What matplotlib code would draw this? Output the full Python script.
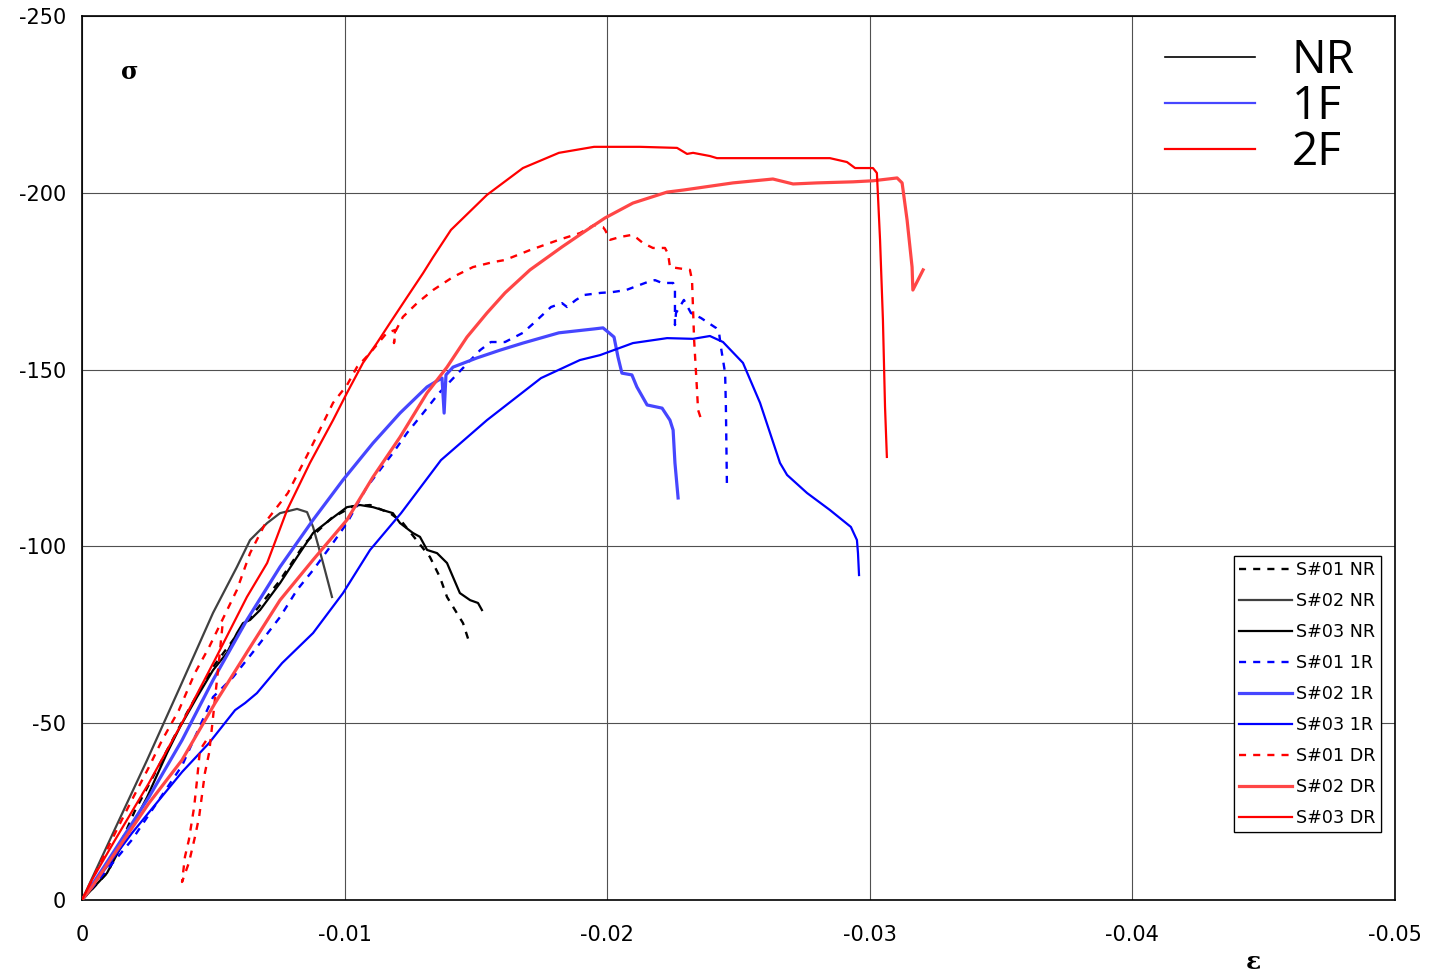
import numpy as np
import matplotlib
matplotlib.use("Agg")
import matplotlib.pyplot as plt
from matplotlib.lines import Line2D

# ---------------- data (strain in 1e-3 units, stress) ----------------
# S#01 NR
eps_s01_nr = [0, -1.0, -2.0, -3.0, -4.0, -5.0, -5.7, -6.2, -7.5, -8.5, -9.5, -10.3, -10.97,
              -11.73, -12.19, -13.25, -13.63, -13.90, -14.51, -14.78]
sig_s01_nr = [0, -8, -25, -39, -53, -66, -73, -78, -90, -101, -108, -111.3, -111.7,
              -109.4, -106.9, -97.0, -91.3, -85.7, -78.3, -72.1]
# S#02 NR
eps_s02_nr = [0, -1.18, -2.48, -3.73, -4.99, -5.90, -6.40, -7.05, -7.54, -8.19, -8.57, -8.80, -9.18, -9.52]
sig_s02_nr = [0, -18.9, -39.6, -60.2, -81.2, -94.2, -101.8, -106.6, -109.4, -110.6, -109.7, -105.5, -95.3, -85.7]
# S#03 NR
eps_s03_nr = [0, -0.95, -1.83, -2.48, -3.24, -3.73, -4.38, -4.99, -5.52, -5.90, -6.13, -6.40, -6.78,
              -7.54, -8.19, -8.80, -9.44, -10.09, -10.59, -11.08, -11.84, -12.11, -12.60, -12.87,
              -13.14, -13.52, -13.90, -14.13, -14.39, -14.78, -15.08, -15.23]
sig_s03_nr = [0, -7.6, -19.8, -29.1, -41.6, -48.9, -57.4, -65.0, -69.9, -75.5, -78.3, -79.2, -82.0,
              -89.6, -97.0, -103.8, -107.5, -111.1, -111.7, -111.1, -109.4, -106.6, -103.8, -102.7,
              -99.0, -98.1, -95.3, -91.3, -86.8, -84.8, -84.0, -82.0]
# S#01 1R
eps_s01_1r = [0, -1.90, -3.81, -4.99, -5.75, -6.66, -7.54, -8.19, -8.80, -9.56, -10.09, -10.85,
              -11.84, -12.38, -12.99, -13.60, -15.16, -15.57, -16.11, -16.79, -17.21, -17.86,
              -18.28, -18.47, -18.81, -19.12, -19.76, -20.18, -20.72, -21.55, -21.82, -22.09,
              -22.51, -22.58, -22.58, -22.62, -22.92, -23.19, -23.57, -24.14, -24.26, -24.33,
              -24.49, -24.52, -24.56]
sig_s01_1r = [0, -17.0, -38.0, -57.4, -63.0, -71.5, -80.0, -87.7, -93.3, -101.0, -106.6, -116.8,
              -126.4, -132.1, -137.7, -143.4, -155.5, -157.8, -157.8, -160.4, -163.2, -167.7,
              -168.8, -167.7, -169.7, -171.1, -171.7, -171.9, -172.5, -174.8, -175.3, -174.5,
              -174.5, -173.4, -162.6, -166.0, -169.7, -166.0, -164.6, -161.8, -160.4, -156.4,
              -149.0, -139.4, -116.8]
# S#02 1R
eps_s02_1r = [0, -0.76, -2.55, -3.81, -4.99, -6.28, -7.54, -8.80, -9.94, -11.08, -12.11, -13.14,
              -13.52, -13.71, -13.79, -13.86, -14.13, -15.04, -15.92, -16.79, -18.16, -19.50,
              -19.84, -20.07, -20.26, -20.41, -20.56, -20.94, -21.13, -21.52, -22.09, -22.39,
              -22.51, -22.58, -22.70]
sig_s02_1r = [0, -8.5, -29.1, -45.2, -62.2, -79.2, -94.2, -107.5, -118.8, -129.2, -137.7, -145.1,
              -146.8, -147.6, -137.7, -148.5, -150.7, -153.3, -155.5, -157.5, -160.4, -161.5,
              -161.8, -160.4, -159.2, -153.6, -149.0, -148.5, -145.1, -140.0, -139.1, -135.7,
              -132.9, -123.6, -113.7]
# S#03 1R
eps_s03_1r = [0, -1.90, -3.81, -4.84, -5.83, -6.21, -6.66, -7.62, -8.80, -9.94, -10.97, -12.15,
              -13.67, -15.42, -17.48, -18.96, -19.73, -20.98, -22.28, -23.27, -23.91, -24.41,
              -25.17, -25.82, -26.58, -26.85, -27.61, -28.48, -29.28, -29.51, -29.55, -29.59]
sig_s03_1r = [0, -18.9, -36.2, -44.4, -53.7, -55.7, -58.5, -67.0, -75.5, -86.8, -99.0, -109.4,
              -124.4, -135.7, -147.6, -152.7, -154.1, -157.5, -158.9, -158.7, -159.5, -157.8,
              -151.9, -140.6, -123.6, -120.2, -115.1, -110.3, -105.5, -101.8, -98.1, -91.9]
# S#01 DR (main branch, then a short loop near the start)
eps_s01_dr = [0, -1.26, -1.90, -2.55, -3.05, -3.69, -4.30, -4.84, -5.90, -6.40, -7.05, -7.84,
              -8.68, -9.56, -10.09, -10.47, -10.97, -11.61, -11.92, -11.88, -11.95, -12.22,
              -12.76, -13.37, -14.13, -14.89, -15.65, -16.11, -17.06, -18.16, -18.96, -19.50,
              -19.84, -19.92, -20.11, -20.49, -20.94, -21.13, -21.36, -21.74, -22.20, -22.32,
              -22.39, -23.15, -23.23, -23.31, -23.42, -23.46, -23.61,
              np.nan,
              -4.72, -4.49, -4.38, -4.27, -4.07, -3.92, -3.81, -3.90, -4.07, -4.30, -4.46,
              -4.68, -4.84, -4.95, -5.06, -5.22, -5.37]
sig_s01_dr = [0, -18.9, -28.3, -37.6, -45.2, -53.7, -64.2, -71.5, -87.7, -98.1, -107.5, -115.1,
              -127.3, -140.6, -145.6, -150.7, -154.7, -160.4, -161.2, -157.5, -161.0, -164.9,
              -168.8, -172.5, -176.2, -179.0, -180.4, -181.0, -183.8, -186.7, -188.6, -190.9,
              -190.3, -189.5, -186.7, -187.5, -188.1, -187.2, -185.8, -184.4, -184.4, -182.7,
              -179.0, -178.2, -175.3, -158.4, -144.2, -138.6, -135.2,
              np.nan,
              -45.0, -42.4, -33.9, -26.3, -17.0, -12.2, -5.1, -7.0, -10.5, -17.8, -23.5,
              -35.9, -41.6, -48.9, -56.6, -67.9, -79.2]
# S#02 DR
eps_s02_dr = [0, -0.38, -1.26, -2.55, -3.81, -5.06, -6.36, -7.54, -8.80, -10.09, -11.08, -12.11,
              -13.14, -13.90, -14.66, -15.42, -16.11, -17.06, -18.28, -19.23, -19.92, -20.98,
              -22.28, -22.92, -24.79, -26.31, -27.08, -27.99, -29.36, -30.12, -31.04, -31.23,
              -31.42, -31.61, -31.64, -32.03]
sig_s02_dr = [0, -3.7, -13.3, -27.4, -39.6, -55.6, -71.0, -84.8, -96.2, -107.5, -119.6, -130.9,
              -143.4, -150.7, -159.2, -166.0, -171.7, -178.2, -184.7, -189.5, -192.9, -197.1,
              -200.2, -200.8, -202.8, -203.9, -202.5, -202.8, -203.1, -203.4, -204.2, -202.8,
              -192.3, -179.0, -172.5, -178.2]
# S#03 DR
eps_s03_dr = [0, -0.38, -1.26, -2.55, -3.81, -5.06, -6.28, -7.05, -7.81, -8.68, -9.56, -10.09,
              -10.70, -11.23, -11.73, -12.38, -12.99, -13.37, -14.05, -15.42, -16.79, -18.16,
              -19.50, -21.25, -22.66, -23.04, -23.27, -23.91, -24.18, -28.48, -29.13, -29.44,
              -30.12, -30.27, -30.39, -30.50, -30.58, -30.65]
sig_s03_dr = [0, -5.7, -17.0, -33.1, -50.1, -67.9, -85.7, -95.3, -110.3, -123.6, -135.7, -143.4,
              -151.9, -157.5, -163.2, -170.5, -177.3, -181.8, -189.5, -199.4, -207.0, -211.3,
              -213.0, -213.0, -212.7, -211.0, -211.3, -210.4, -209.8, -209.8, -208.7, -207.0,
              -207.0, -205.6, -186.7, -164.0, -139.4, -125.3]

series_labels = ["S#01 NR", "S#02 NR", "S#03 NR", "S#01 1R", "S#02 1R", "S#03 1R",
                 "S#01 DR", "S#02 DR", "S#03 DR"]
group_labels = ["NR", "1F", "2F"]
x_ticks = [0, -0.01, -0.02, -0.03, -0.04, -0.05]
x_tick_labels = ["0", "-0.01", "-0.02", "-0.03", "-0.04", "-0.05"]
y_ticks = [0, -50, -100, -150, -200, -250]
y_tick_labels = ["0", "-50", "-100", "-150", "-200", "-250"]

# ---------------- styling ----------------
BLACK, GREY = "#000000", "#404040"
BLUE, LBLUE = "#0000ff", "#4646ff"
RED, LRED = "#ff0000", "#ff4646"
dash = (0, (3, 3))

series = [
    (eps_s01_nr, sig_s01_nr, BLACK, 1.7, dash),
    (eps_s02_nr, sig_s02_nr, GREY, 1.6, "-"),
    (eps_s03_nr, sig_s03_nr, BLACK, 1.6, "-"),
    (eps_s01_1r, sig_s01_1r, BLUE, 1.7, dash),
    (eps_s02_1r, sig_s02_1r, LBLUE, 2.3, "-"),
    (eps_s03_1r, sig_s03_1r, BLUE, 1.6, "-"),
    (eps_s01_dr, sig_s01_dr, RED, 1.7, dash),
    (eps_s02_dr, sig_s02_dr, LRED, 2.3, "-"),
    (eps_s03_dr, sig_s03_dr, RED, 1.6, "-"),
]

W, H = 1431, 973
fig = plt.figure(figsize=(W / 100, H / 100), dpi=100)
ax = fig.add_axes([82 / W, 1 - 900 / H, (1395 - 82) / W, (900 - 16) / H])

handles = []
for (ex, sy, col, lw, ls), lab in zip(series, series_labels):
    ln, = ax.plot(np.array(ex, dtype=float) * 1e-3, sy, color=col, lw=lw, ls=ls, label=lab,
                  solid_joinstyle="round", zorder=3)
    handles.append(ln)

ax.set_xlim(0, -0.05)
ax.set_ylim(0, -250)
ax.set_xticks(x_ticks)
ax.set_xticklabels(x_tick_labels)
ax.set_yticks(y_ticks)
ax.set_yticklabels(y_tick_labels)
ax.tick_params(length=0, labelsize=15)
ax.tick_params(axis="x", pad=18)
ax.tick_params(axis="y", pad=11.5)
for lab in ax.get_xticklabels() + ax.get_yticklabels():
    lab.set_fontfamily("DejaVu Sans")
ax.grid(True, color="#505050", lw=0.8, zorder=1)
ax.set_axisbelow(True)
for sp in ax.spines.values():
    sp.set_linewidth(1.2)
    sp.set_color("black")

# axis symbols
fig.text(130 / W, 1 - 72 / H, "σ", ha="center", va="center", fontsize=17,
         fontweight="bold", family="DejaVu Serif")
fig.text(1253 / W, 1 - 962 / H, "ε", ha="center", va="center", fontsize=18,
         fontweight="bold", family="DejaVu Serif")

# small legend (specimens)
leg = ax.legend(handles=handles, loc="lower right",
                bbox_to_anchor=(1381 / W, 1 - 832 / H), bbox_transform=fig.transFigure,
                prop={"family": "DejaVu Sans", "size": 12.6},
                frameon=True, fancybox=False, framealpha=1, edgecolor="black",
                handlelength=3.0, handletextpad=0.25, labelspacing=0.74,
                borderpad=0.3, borderaxespad=0)
leg.get_frame().set_linewidth(0.9)

# group legend
gh = [Line2D([], [], color=BLACK, lw=1.2), Line2D([], [], color=LBLUE, lw=1.6),
      Line2D([], [], color=RED, lw=1.6)]
leg2 = fig.legend(handles=gh, labels=group_labels, loc="upper left",
                  bbox_to_anchor=(1165 / W, 1 - 38 / H),
                  prop={"family": "Open Sans", "size": 33},
                  frameon=False, handlelength=1.96, handletextpad=0.8,
                  labelspacing=0.0, borderpad=0, borderaxespad=0)
ax.add_artist(leg)

fig.savefig("out.png", dpi=100)
